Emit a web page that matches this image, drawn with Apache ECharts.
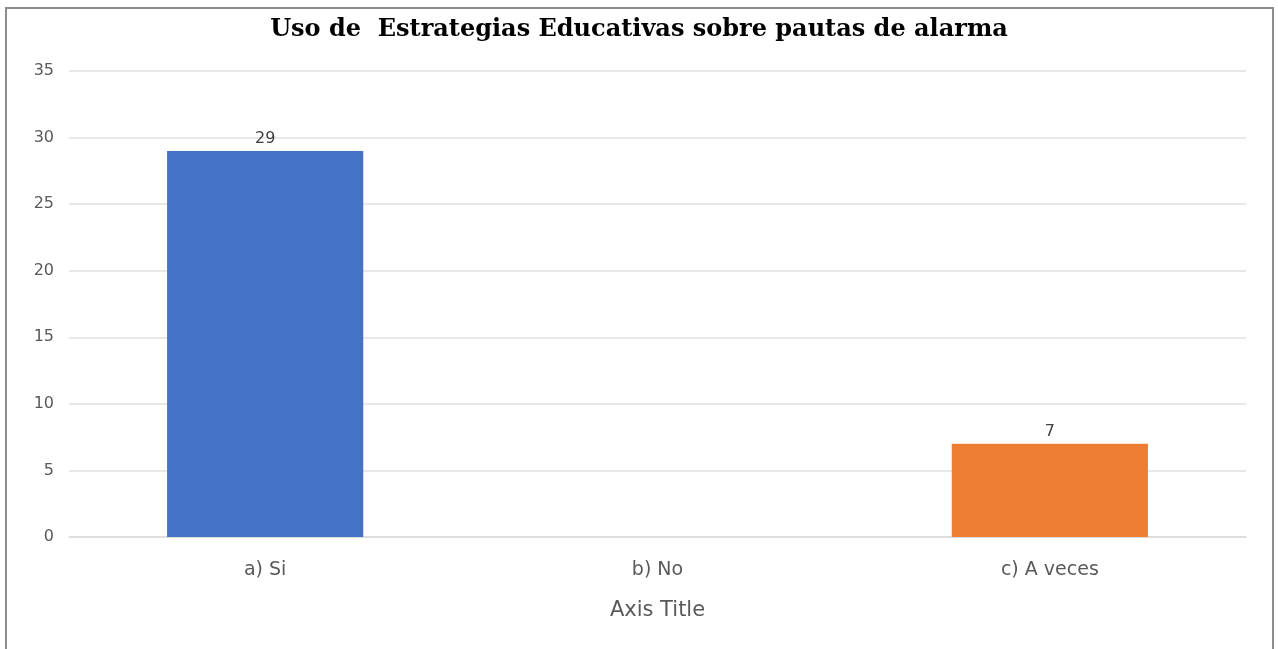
<!DOCTYPE html>
<html>
<head>
<meta charset="utf-8">
<script src="https://cdn.jsdelivr.net/npm/echarts@6/dist/echarts.min.js"></script>
<style>
  html, body { margin: 0; padding: 0; background: #ffffff; }
  #chart { position: absolute; left: 0; top: 0; width: 1278px; height: 649px; }
  #frame {
    position: absolute; left: 5px; top: 7px; width: 1265px; height: 700px;
    border: 2px solid #8c8c8c; pointer-events: none;
  }
</style>
</head>
<body>
<div id="chart"></div>
<div id="frame"></div>
<script>
const categories = ['a) Si', 'b) No', 'c) A veces'];
const values = [29, 0, 7];
const barColors = ['#4472C4', '#A5A5A5', '#ED7D31'];
const yTicks = { min: 0, max: 35, interval: 5 };

const sans = '"DejaVu Sans", "Open Sans", sans-serif';

const chart = echarts.init(document.getElementById('chart'));

const option = {
  animation: false,
  title: {
    text: 'Uso de  Estrategias Educativas sobre pautas de alarma',
    left: 'center',
    top: 13,
    textStyle: {
      fontFamily: '"DejaVu Serif", "Liberation Serif", serif',
      fontWeight: 'bold',
      fontSize: 24,
      color: '#000000',
    },
  },
  grid: {
    left: 69,
    right: 32,
    top: 71,
    bottom: 112,
  },
  xAxis: {
    type: 'category',
    data: categories,
    name: 'Axis Title',
    nameLocation: 'middle',
    nameGap: 63,
    nameTextStyle: {
      fontFamily: sans,
      fontSize: 21,
      color: '#595959',
    },
    axisTick: { show: false },
    axisLine: { lineStyle: { color: '#d9d9d9', width: 1.5 } },
    axisLabel: {
      margin: 24,
      fontFamily: sans,
      fontSize: 19,
      color: '#595959',
    },
  },
  yAxis: {
    type: 'value',
    min: yTicks.min,
    max: yTicks.max,
    interval: yTicks.interval,
    axisLine: { show: false },
    axisTick: { show: false },
    axisLabel: {
      margin: 15,
      fontFamily: sans,
      fontSize: 16,
      color: '#595959',
    },
    splitLine: { lineStyle: { color: '#e0e0e0', width: 1.5 } },
  },
  series: [
    {
      type: 'bar',
      barWidth: '50%',
      data: values.map((v, i) => ({ value: v, itemStyle: { color: barColors[i] } })),
      label: {
        show: true,
        position: 'top',
        distance: 4,
        fontFamily: sans,
        fontSize: 16,
        color: '#404040',
        formatter: (p) => (p.value === 0 ? '' : p.value),
      },
    },
  ],
};

chart.setOption(option);
</script>
</body>
</html>
